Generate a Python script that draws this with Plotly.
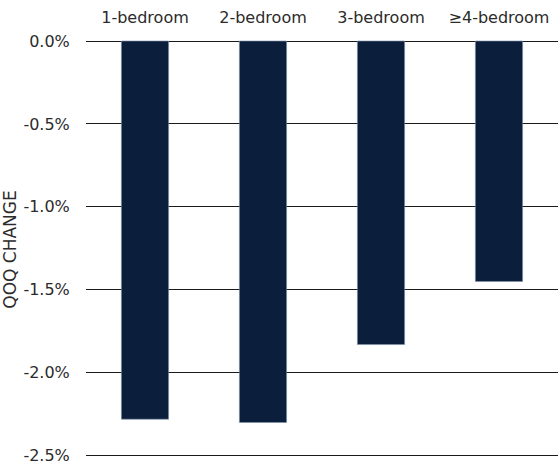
import plotly.graph_objects as go

categories = ["1-bedroom", "2-bedroom", "3-bedroom", "\u22654-bedroom"]
qoq_change = [-2.28, -2.30, -1.83, -1.45]
y_ticks = [0.0, -0.5, -1.0, -1.5, -2.0, -2.5]
y_tick_labels = ["0.0%", "-0.5%", "-1.0%", "-1.5%", "-2.0%", "-2.5%"]

fig = go.Figure(go.Bar(
    x=categories, y=qoq_change, width=0.4,
    marker=dict(color="#0b1f3d", line=dict(color="#8090a8", width=0.6)),
))

txt = "#2b2b2b"
fig.update_layout(
    width=560, height=464,
    margin=dict(l=86, r=2, t=40, b=5, autoexpand=False),
    paper_bgcolor="white", plot_bgcolor="white",
    font=dict(family="DejaVu Sans, sans-serif", size=16, color=txt),
    showlegend=False,
    xaxis=dict(side="top", ticks="outside", ticklen=10, tickcolor="rgba(0,0,0,0)",
               automargin=False,
               showgrid=False, showline=False, tickfont=dict(size=16, color=txt)),
    yaxis=dict(range=[-2.52, 0.006], tickvals=y_ticks, ticktext=y_tick_labels,
               automargin=True, ticklabeloverflow="allow",
               ticks="outside", ticklen=12, tickcolor="rgba(0,0,0,0)",
               showgrid=True, gridcolor="#1a1a1a", gridwidth=1.2,
               zeroline=True, zerolinecolor="#1a1a1a", zerolinewidth=1.2,
               title=dict(text="QOQ CHANGE", font=dict(size=17, color=txt), standoff=4),
               tickfont=dict(size=16, color=txt)),
)

fig.write_html(
    "out.html",
    config={"displayModeBar": False},
    post_script="document.body.style.margin='0px';document.body.style.overflow='hidden';",
)
